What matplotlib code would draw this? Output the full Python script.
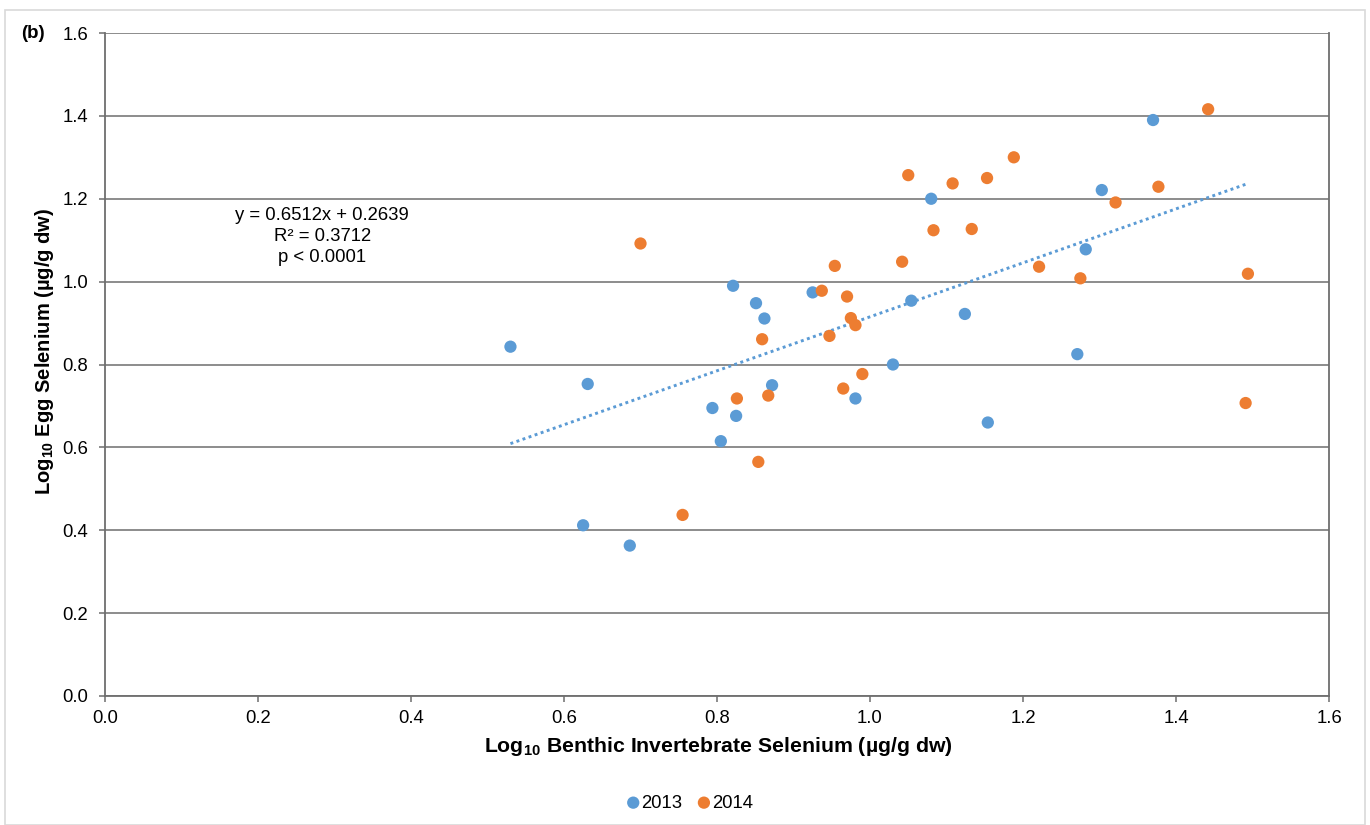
import matplotlib
matplotlib.use("Agg")
from matplotlib import pyplot as plt
from matplotlib.patches import Rectangle
import numpy as np

plt.rcParams['font.family'] = ['Liberation Sans', 'DejaVu Sans']
plt.rcParams['mathtext.fontset'] = 'custom'
plt.rcParams['mathtext.rm'] = 'Liberation Sans'
plt.rcParams['mathtext.bf'] = 'Liberation Sans:bold'

# 2013 samples (log10 invertebrate Se, log10 egg Se)
x_2013 = [0.530, 0.631, 0.625, 0.686, 0.794, 0.805, 0.825, 0.821, 0.851, 0.862, 0.872,
          0.925, 0.981, 1.030, 1.054, 1.080, 1.124, 1.154, 1.271, 1.282, 1.303, 1.370]
y_2013 = [0.843, 0.753, 0.412, 0.363, 0.695, 0.615, 0.676, 0.990, 0.948, 0.911, 0.750,
          0.974, 0.718, 0.800, 0.954, 1.200, 0.922, 0.660, 0.825, 1.078, 1.221, 1.390]

# 2014 samples
x_2014 = [0.700, 0.755, 0.826, 0.859, 0.867, 0.854, 0.937, 0.947, 0.954, 0.970, 0.975,
          0.981, 0.965, 0.990, 1.042, 1.083, 1.050, 1.108, 1.153, 1.188, 1.133, 1.221,
          1.275, 1.321, 1.377, 1.442, 1.494, 1.491]
y_2014 = [1.092, 0.437, 0.718, 0.861, 0.725, 0.565, 0.978, 0.869, 1.038, 0.964, 0.912,
          0.895, 0.742, 0.777, 1.048, 1.124, 1.257, 1.237, 1.250, 1.300, 1.127, 1.036,
          1.008, 1.191, 1.229, 1.416, 1.019, 0.707]

# linear trend reported on the chart
slope = 0.6512
intercept = 0.2639
r2 = 0.3712

blue = "#5B9BD5"
orange = "#ED7D31"
grid_col = "#6e6e6e"

fig = plt.figure(figsize=(13.7, 8.25), dpi=100)
ax = fig.add_axes([105 / 1370, 1 - 696 / 825, (1329 - 105) / 1370, (696 - 33) / 825])

# outer chart border
fig.patches.append(Rectangle((5 / 1370, 0), 1360 / 1370, 1 - 10 / 825, transform=fig.transFigure,
                             fill=False, edgecolor="#d9d9d9", lw=1.2))

ax.scatter(x_2013, y_2013, s=78, color=blue, edgecolors='none', zorder=3, label="2013")
ax.scatter(x_2014, y_2014, s=78, color=orange, edgecolors='none', zorder=3, label="2014")

all_x = np.array(x_2013 + x_2014)
xt = np.array([all_x.min(), all_x.max()])
ax.plot(xt, slope * xt + intercept, color=blue, lw=2.1, linestyle=(0, (1, 1.2)), zorder=2)

ticks = np.arange(0, 1.61, 0.2)
ax.set_xlim(0, 1.6)
ax.set_ylim(0, 1.6)
ax.set_xticks(ticks)
ax.set_yticks(ticks)
ax.set_xticklabels([f"{v:.1f}" for v in ticks])
ax.set_yticklabels([f"{v:.1f}" for v in ticks])
ax.yaxis.grid(True, color=grid_col, lw=1.1)
ax.set_axisbelow(True)
for side in ['left', 'bottom', 'right']:
    ax.spines[side].set_color(grid_col)
    ax.spines[side].set_linewidth(1.3)
ax.spines['top'].set_visible(False)
ax.tick_params(axis='both', direction='out', length=4, width=1.1, color=grid_col,
               labelsize=13.3, labelcolor="#000000")
ax.tick_params(axis='x', pad=6)
ax.tick_params(axis='y', pad=8)

fig.text(718 / 1370, 1 - 746 / 825, r"Log$_{\mathbf{10}}$ Benthic Invertebrate Selenium (µg/g dw)",
         ha='center', va='center', fontsize=15.3, fontweight='bold')
fig.text(45 / 1370, 1 - 351 / 825, r"Log$_{\mathbf{10}}$ Egg Selenium (µg/g dw)",
         ha='center', va='center', rotation=90, fontsize=14.5, fontweight='bold')
fig.text(21 / 1370, 1 - 33 / 825, "(b)", ha='left', va='center', fontsize=13.5, fontweight='bold')

ax.text(0.284, 1.18, f"y = {slope}x + {intercept}\nR² = {r2}\np < 0.0001",
        ha='center', va='top', fontsize=13.3, linespacing=1.3)

fig.legend(loc='center', bbox_to_anchor=(690 / 1370, 1 - 803 / 825), ncol=2, frameon=False,
           fontsize=13.3, handlelength=0.7, handletextpad=0.1, columnspacing=0.8,
           markerscale=1.0, scatterpoints=1)

fig.savefig("out.png", dpi=100)
